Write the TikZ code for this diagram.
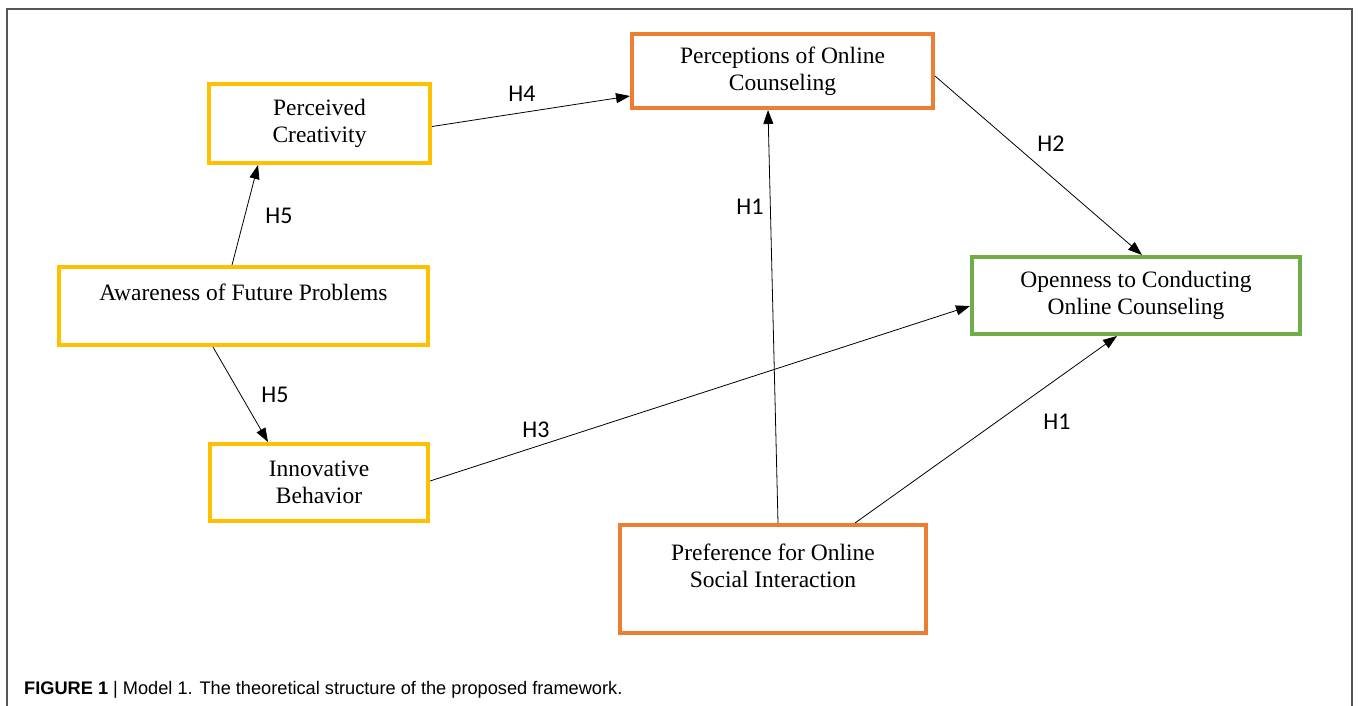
\documentclass[tikz,border=0pt]{standalone}
\usepackage{fontspec}
\setmainfont{Liberation Serif}
\newfontfamily\labfont{Carlito}
\newfontfamily\capfont{Liberation Sans}
\usetikzlibrary{arrows.meta}
\definecolor{cyel}{HTML}{FFC000}
\definecolor{corg}{HTML}{ED7D31}
\definecolor{cgrn}{HTML}{70AD47}
\definecolor{cframe}{HTML}{555555}
\tikzset{
  box/.style={draw, line width=4pt, fill=white, align=center, inner sep=0pt,
    font=\fontsize{23.5}{27}\selectfont},
  ybox/.style={box, draw=cyel},
  obox/.style={box, draw=corg},
  gbox/.style={box, draw=cgrn},
  conn/.style={line width=0.8pt, -{Triangle[length=14pt,width=10pt]}},
  hlab/.style={font=\labfont\fontsize{24}{28}\selectfont, inner sep=0pt},
}
\begin{document}
\begin{tikzpicture}[x=1pt,y=1pt]
\useasboundingbox (0,0) rectangle (1358,-705);
\draw[cframe, line width=1.2pt] (7,-710) -- (7,-9) -- (1352,-9) -- (1352,-710);

\node[ybox, minimum width=221pt, minimum height=79pt] (pc) at (319.5,-123.5) {Perceived\\Creativity};
\node[obox, minimum width=301pt, minimum height=74pt] (poc) at (782.5,-71) {Perceptions of Online\\Counseling};
\node[ybox, minimum width=369pt, minimum height=78pt] (aw) at (243.5,-306) {Awareness of Future Problems\\\mbox{}};
\node[gbox, minimum width=328pt, minimum height=77pt] (op) at (1136,-295.5) {Openness to Conducting\\Online Counseling};
\node[ybox, minimum width=218pt, minimum height=77pt] (ib) at (319,-482.5) {Innovative\\Behavior};
\node[obox, minimum width=306pt, minimum height=108pt] (pf) at (773,-579) {Preference for Online\\Social Interaction\\\mbox{}};

\draw[conn] ([yshift=-3pt]pc.east) -- ([yshift=-25pt]poc.west);
\draw[conn] ([xshift=-11.5pt]aw.north) -- ([xshift=-61.5pt]pc.south);
\draw[conn] ([xshift=-30.5pt]aw.south) -- ([xshift=-51pt]ib.north);
\draw[conn] ([yshift=1.5pt]ib.east) -- ([yshift=-10.5pt]op.west);
\draw[conn] ([xshift=5pt]pf.north) -- ([xshift=-14.5pt]poc.south);
\draw[conn] ([yshift=-5pt]poc.east) -- ([xshift=6pt]op.north);
\draw[conn] ([xshift=82pt]pf.north) -- ([xshift=-19pt]op.south);

\node[hlab] (l4) at (522,-94) {H4};
\node[hlab] (l5a) at (279,-216) {H5};
\node[hlab] (l5b) at (275,-395) {H5};
\node[hlab] (l3) at (536,-430) {H3};
\node[hlab] (l1a) at (750,-207) {H1};
\node[hlab] (l2) at (1051,-144) {H2};
\node[hlab] (l1b) at (1057,-422) {H1};

\node[anchor=west, inner sep=0pt, font=\capfont\fontsize{18.2}{21}\selectfont] (cap) at (24,-690)
  {\textbf{FIGURE 1} | Model 1. The theoretical structure of the proposed framework.};
\end{tikzpicture}
\end{document}
